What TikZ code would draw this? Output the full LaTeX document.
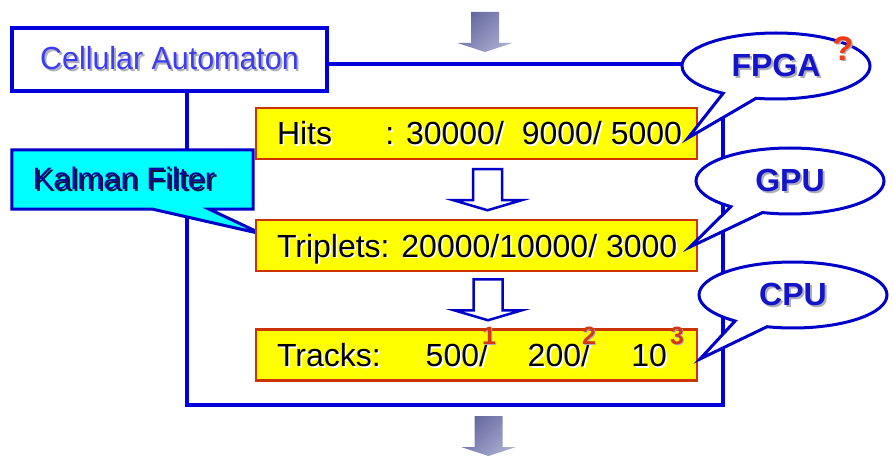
\documentclass[tikz,border=0pt]{standalone}
\usepackage{graphicx}
\usepackage{fontspec}
\setmainfont{Liberation Sans}
\usetikzlibrary{shapes.callouts,backgrounds,calc}

\definecolor{frameblue}{RGB}{0,0,220}
\definecolor{calloutblue}{RGB}{0,0,200}
\definecolor{catext}{RGB}{60,60,240}
\definecolor{boxyellow}{RGB}{255,255,0}
\definecolor{boxedge}{RGB}{204,51,0}
\definecolor{kalfill}{RGB}{0,255,255}
\definecolor{kaltext}{RGB}{10,10,150}
\definecolor{kalshadow}{RGB}{20,20,60}
\definecolor{hwtext}{RGB}{20,20,200}
\definecolor{softshadow}{RGB}{175,175,185}
\definecolor{marker}{RGB}{210,55,20}
\definecolor{qcolor}{RGB}{240,60,20}
\definecolor{arrowdark}{RGB}{100,104,158}
\definecolor{arrowlight}{RGB}{170,172,208}

% text over an offset copy of itself: [offset]{copy colour}{text colour}{text}
\newcommand\shadowed[4][1.5pt]{%
  \makebox[0pt][l]{\hspace{#1}\raisebox{-#1}{\textcolor{#2}{#4}}}\textcolor{#3}{#4}}
\newcommand\glow[1]{\shadowed{white}{black}{#1}}
% small bold index set above the end of a number
\newcommand\idx[2]{\rlap{\hspace{#1}\raisebox{22pt}{\fontsize{25}{25}\selectfont\bfseries\shadowed[1pt]{softshadow}{marker}{#2}}}}

\tikzset{
  x=1pt, y=-1pt,
  frameline/.style={draw=frameblue, line width=4pt},
  cabox/.style={draw=frameblue, line width=4pt, fill=white, minimum width=315pt,
    minimum height=63pt, inner sep=0pt, font=\fontsize{32}{38}\selectfont},
  countbox/.style={draw=boxedge, line width=2.5pt, fill=boxyellow, minimum width=441pt,
    minimum height=51pt, inner sep=0pt, text height=23pt, text depth=0pt,
    font=\fontsize{32}{38}\selectfont},
  kalbox/.style={minimum width=241pt, minimum height=59pt, inner sep=0pt,
    font=\fontsize{31}{36}\selectfont},
  kalline/.style={draw=calloutblue, fill=kalfill, line width=3pt, line join=miter},
  bubble/.style={ellipse callout, draw=calloutblue, line width=3pt, fill=white,
    minimum width=188pt, minimum height=66pt, inner sep=0pt, callout pointer arc=22,
    font=\fontsize{32}{38}\selectfont\bfseries},
  hollowline/.style={draw=calloutblue, fill=white, line width=2.5pt, line join=miter},
  hollowdown/.pic={\draw[hollowline] (-14.5,0) -- (14.5,0) -- (14.5,31) -- (34,31)
    -- (0,41) -- (-34,31) -- (-14.5,31) -- cycle;},
  greydown/.pic={\shade[top color=arrowdark, bottom color=arrowlight, shading angle=45]
    (-14,0) -- (14,0) -- (14,31) -- (27.5,31) -- (0,40) -- (-27.5,31) -- (-14,31) -- cycle;}
}

\begin{document}
\begin{tikzpicture}
\useasboundingbox (0,0) rectangle (893,462);

% corners of the frame and the tips of the callouts
\coordinate (frtl) at (187,64);
\coordinate (frbr) at (723,405);
\coordinate (kaltip) at (262,234);
\coordinate (fpgatip) at (688,138);
\coordinate (gputip) at (690,247);
\coordinate (cputip) at (700,359);

% flow in and out
\pic (inflow) at (485,12) {greydown};
\pic (outflow) at (488.5,416) {greydown};

% title box of the method
\node[cabox] (ca) at (169.5,59.5)
  {\scalebox{0.95}[1]{\shadowed[2pt]{softshadow}{catext}{Cellular Automaton}}};

% counts at the three stages
\node[countbox] (hits) at (476.5,133.5)
  {\makebox[440pt][l]{\hspace{20.5pt}\makebox[405pt][l]{\glow{Hits}\hfill\glow{: 30000/\hspace{9pt} 9000/ 5000}}}};
\node[countbox] (trip) at (476.5,245.5)
  {\makebox[440pt][l]{\hspace{20.5pt}\glow{Triplets: 20000/10000/ 3000}}};
\node[countbox] (trk) at (476.5,355)
  {\makebox[440pt][l]{\hspace{20.5pt}\rlap{\glow{Tracks:}}%
   \makebox[211pt][r]{\glow{500/}\idx{-6pt}{1}}%
   \makebox[102pt][r]{\glow{200/}\idx{-8pt}{2}}%
   \makebox[77pt][r]{\glow{10}\idx{3pt}{3}}}};

% steps between the stages
\pic (step1) at ($(hits.south)+(11,9)$) {hollowdown};
\pic (step2) at ($(trip.south)+(11.5,7)$) {hollowdown};

% side note on the left
\node[kalbox] (kalman) at (132.5,179.5)
  {\hspace*{0pt}\shadowed[2pt]{kalshadow}{kaltext}{Kalman Filter}\hspace*{17pt}};

% hardware callouts
\node[bubble, callout absolute pointer=(fpgatip)] (fpga) at (776,66)
  {\shadowed[2pt]{softshadow}{hwtext}{FPGA}};
\node[bubble, callout absolute pointer=(gputip)] (gpu) at (790,181)
  {\shadowed[2pt]{softshadow}{hwtext}{GPU}};
\node[bubble, callout absolute pointer=(cputip)] (cpu) at (793,295)
  {\shadowed[2pt]{softshadow}{hwtext}{CPU}};
\node[font=\fontsize{34}{34}\selectfont\bfseries, inner sep=0pt] (query) at (843,49)
  {\shadowed[1.5pt]{softshadow}{qcolor}{?}};

\begin{pgfonlayer}{background}
  \fill[white] (0,0) rectangle (893,462);
  \draw[frameline] (frtl) rectangle (frbr);
  \draw[kalline] (kalman.north west) -- (kalman.north east) -- (kalman.south east)
    -- ([xshift=-44pt]kalman.south east) -- (kaltip)
    -- ([xshift=141pt]kalman.south west) -- (kalman.south west) -- cycle;
\end{pgfonlayer}
\end{tikzpicture}
\end{document}
